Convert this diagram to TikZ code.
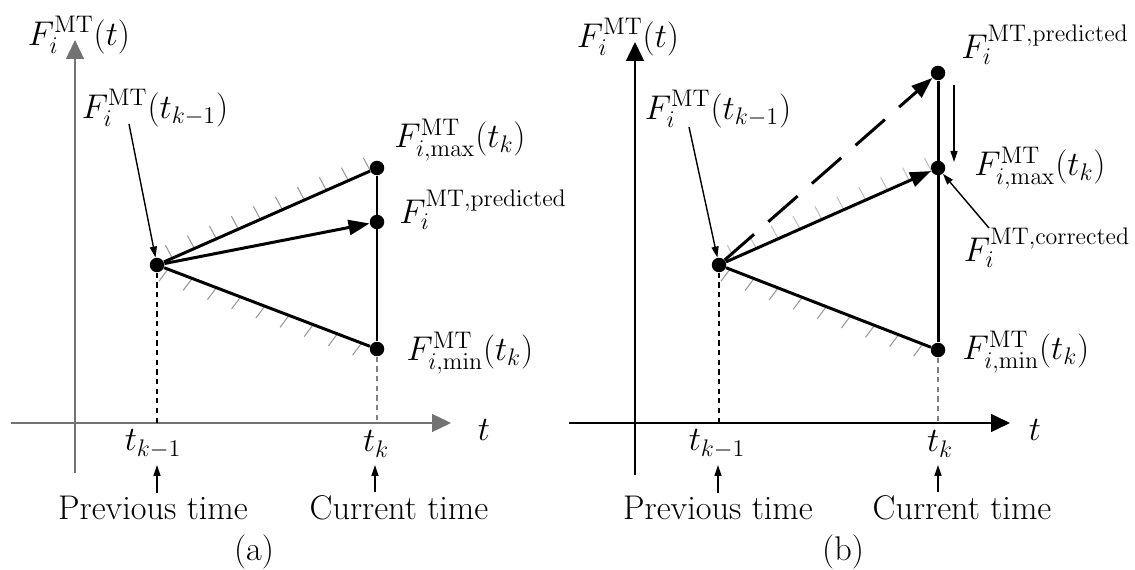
\RequirePackage{fix-cm}
\documentclass[tikz,border=0pt]{standalone}
\usetikzlibrary{arrows.meta,calc}
\begin{document}
\begin{tikzpicture}[x=0.02cm,y=-0.02cm,
  font=\fontsize{19.5}{23}\selectfont,
  dot/.style={circle,fill=black,inner sep=0pt,minimum size=0.29cm},
  mainline/.style={line width=1.7pt},
  bigarrow/.style={line width=1.7pt,-{Triangle[length=0.42cm,width=0.3cm]}},
  axisline/.style={line width=0.8pt,-{Triangle[length=0.38cm,width=0.36cm]}},
  thinarrow/.style={line width=0.8pt,-{Triangle[length=0.22cm,width=0.14cm]}},
  guide/.style={line width=0.6pt,dash pattern=on 3pt off 2.5pt},
  hatch/.style={black!40,line width=0.6pt},
  lbl/.style={inner sep=0pt}
]
\useasboundingbox (0,0) rectangle (1135,570);

% ================= panel (a) =================
\coordinate (ay0) at (75,473);
\coordinate (ay1) at (75,40);
\coordinate (ax0) at (11,423);
\coordinate (ax1) at (451,423);
\draw[axisline,draw=black!55] (ay0) -- (ay1);
\draw[axisline,draw=black!55] (ax0) -- (ax1);
\node[lbl] (aYl) at (79,35) {$F_i^{\mathrm{MT}}(t)$};
\node[lbl] (aTl) at (484,430) {$t$};

\node[dot] (aS) at (157,265) {};
\node[dot] (aM) at (377,168) {};
\node[dot] (aP) at (377,222) {};
\node[dot] (aN) at (377,349) {};

% hatching
\foreach \f in {0.07,0.17,...,0.97}
  \draw[hatch] ($(aS)!\f!(aM)$) -- ++(-7,-13);
\foreach \f in {0.05,0.16,...,0.98}
  \draw[hatch] ($(aS)!\f!(aN)$) -- ++(-9,12);

\coordinate (aSb) at (157,423);
\coordinate (aNb) at (377,423);
\draw[guide] (aS) -- (aSb);
\draw[guide,draw=black!50] (aN) -- (aNb);

\draw[mainline] (aS) -- (aM);
\draw[mainline] (aS) -- (aN);
\draw[mainline] (aM) -- (aN);
\draw[bigarrow] (aS) -- (aP);

\node[lbl] (aLk) at (155,108) {$F_i^{\mathrm{MT}}(t_{k-1})$};
\coordinate (aLks) at (129,124);
\draw[thinarrow] (aLks) -- (aS);
\node[lbl] (aLmax) at (460,140) {$F_{i,\max}^{\mathrm{MT}}(t_k)$};
\node[lbl] (aLp) at (483,210) {$F_i^{\mathrm{MT,predicted}}$};
\node[lbl] (aLmin) at (470,353) {$F_{i,\min}^{\mathrm{MT}}(t_k)$};

\node[lbl] (aT1) at (153,444) {$t_{k-1}$};
\node[lbl] (aT2) at (376,444) {$t_k$};
\node[lbl] (aPrev) at (153,508) {Previous time};
\node[lbl] (aCur) at (399,508) {Current time};
\coordinate (aU1) at (157,465);
\coordinate (aU2) at (375,465);
\draw[thinarrow] (aU1 |- aPrev.north) ++(0,-3) -- (aU1);
\draw[thinarrow] (aU2 |- aCur.north) ++(0,-3) -- (aU2);
\node[lbl] (aCap) at (254,552) {(a)};

% ================= panel (b) =================
\coordinate (by0) at (635,475);
\coordinate (by1) at (635,42);
\coordinate (bx0) at (569,423);
\coordinate (bx1) at (1010,423);
\draw[axisline] (by0) -- (by1);
\draw[axisline] (bx0) -- (bx1);
\node[lbl] (bYl) at (628,37) {$F_i^{\mathrm{MT}}(t)$};
\node[lbl] (bTl) at (1035,430) {$t$};

\node[dot] (bS) at (719,265) {};
\node[dot] (bP) at (938,73) {};
\node[dot] (bM) at (938,168) {};
\node[dot] (bN) at (938,350) {};

\foreach \f in {0.07,0.17,...,0.97}
  \draw[hatch,draw=black!25] ($(bS)!\f!(bM)$) -- ++(-7,-13);
\foreach \f in {0.05,0.16,...,0.98}
  \draw[hatch] ($(bS)!\f!(bN)$) -- ++(-9,12);

\coordinate (bSb) at (719,423);
\coordinate (bNb) at (938,423);
\draw[guide] (bS) -- (bSb);
\draw[guide,draw=black!50] (bN) -- (bNb);

\draw[mainline] (bS) -- (bN);
\draw[mainline] (bP) -- (bN);
\draw[bigarrow,dash pattern=on 0.78cm off 0.38cm] (bS) -- (bP);
\draw[bigarrow] (bS) -- (bM);

\node[lbl] (bLk) at (718,109) {$F_i^{\mathrm{MT}}(t_{k-1})$};
\coordinate (bLks) at (689,127);
\draw[thinarrow] (bLks) -- (bS);
\node[lbl] (bLp) at (1045,45) {$F_i^{\mathrm{MT,predicted}}$};
\node[lbl] (bLmax) at (1040,168) {$F_{i,\max}^{\mathrm{MT}}(t_k)$};
\node[lbl] (bLc) at (1047,248) {$F_i^{\mathrm{MT,corrected}}$};
\node[lbl] (bLmin) at (1026,352) {$F_{i,\min}^{\mathrm{MT}}(t_k)$};
\coordinate (bD0) at (954,85);
\coordinate (bD1) at (954,162);
\draw[thinarrow] (bD0) -- (bD1);
\coordinate (bCs) at (989,228);
\draw[thinarrow] (bCs) -- (bM);

\node[lbl] (bT1) at (717,444) {$t_{k-1}$};
\node[lbl] (bT2) at (940,444) {$t_k$};
\node[lbl] (bPrev) at (718,508) {Previous time};
\node[lbl] (bCur) at (962,508) {Current time};
\coordinate (bU1) at (718,465);
\coordinate (bU2) at (938,465);
\draw[thinarrow] (bU1 |- bPrev.north) ++(0,-3) -- (bU1);
\draw[thinarrow] (bU2 |- bCur.north) ++(0,-3) -- (bU2);
\node[lbl] (bCap) at (843,552) {(b)};
\end{tikzpicture}
\end{document}
